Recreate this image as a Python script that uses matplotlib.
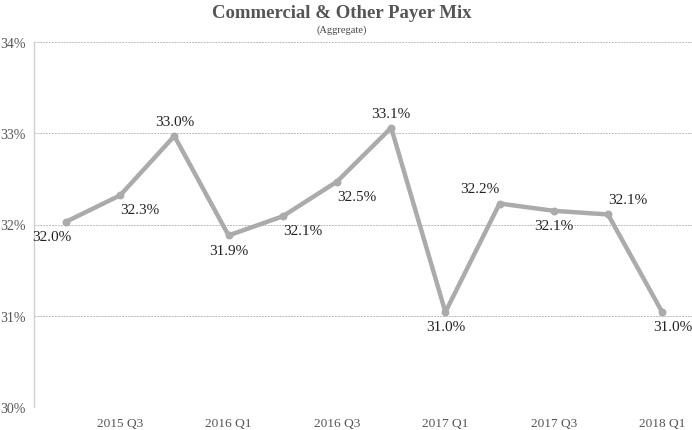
import matplotlib
matplotlib.use("Agg")
import matplotlib.pyplot as plt
from matplotlib.ticker import FuncFormatter

quarters = ["2015 Q2", "2015 Q3", "2015 Q4", "2016 Q1", "2016 Q2", "2016 Q3",
            "2016 Q4", "2017 Q1", "2017 Q2", "2017 Q3", "2017 Q4", "2018 Q1"]
payer_mix = [32.03, 32.32, 32.97, 31.88, 32.09, 32.47,
             33.06, 31.04, 32.23, 32.15, 32.11, 31.04]
shown_ticks = ["2015 Q3", "2016 Q1", "2016 Q3", "2017 Q1", "2017 Q3", "2018 Q1"]
y_ticks = [30, 31, 32, 33, 34]

# label placement, like the tableau auto labels: side (+1 above / -1 below)
label_side = [-1, -1, 1, -1, -1, -1, 1, -1, 1, -1, 1, -1]
label_ha = ["right", "left", "center", "center", "left", "left",
            "center", "center", "right", "center", "left", "center"]

plt.rcParams['font.family'] = ['Liberation Serif', 'DejaVu Serif']

fig = plt.figure(figsize=(6.92, 4.31), dpi=100)
ax = fig.add_axes([34 / 692, 23 / 431, 658 / 692, 365 / 431])

x = list(range(len(quarters)))
line_col = "#ababab"
ax.plot(x, payer_mix, color=line_col, lw=3.2, solid_capstyle="round",
        solid_joinstyle="round", zorder=3)
ax.scatter(x, payer_mix, s=22, color=line_col, zorder=4)

for i, v in enumerate(payer_mix):
    dx = 0
    if i == 0:
        dx = 4
    if i == len(payer_mix) - 1:
        dx = 7.5  # pushed in from the right edge
    ax.annotate(f"{v:.1f}%", (i, v), xytext=(dx, 10.5 * label_side[i]),
                textcoords="offset points", ha=label_ha[i], va="center",
                fontsize=11, color="#222222", zorder=5, annotation_clip=False)

ax.set_xlim(-0.59, 11.55)
ax.set_ylim(30, 34)
ax.set_yticks(y_ticks)
ax.yaxis.set_major_formatter(FuncFormatter(lambda v, p: f"{v:.0f}%"))
ax.set_xticks([quarters.index(q) for q in shown_ticks])
ax.set_xticklabels(shown_ticks)
ax.tick_params(axis="both", length=0, colors="#555555")
ax.tick_params(axis="y", pad=6, labelsize=10)
ax.tick_params(axis="x", pad=7, labelsize=9.6)

ax.grid(axis="y", color="#bbbbbb", linestyle=(0, (2, 1)), lw=0.7)
ax.set_axisbelow(True)
for s in ["top", "right", "bottom"]:
    ax.spines[s].set_visible(False)
ax.spines["left"].set_color("#d0d0d0")
ax.spines["left"].set_linewidth(1)

fig.text(0.494, 1 - 13 / 431, "Commercial & Other Payer Mix", ha="center",
         va="center", fontsize=13.5, fontweight="bold", color="#555555")
fig.text(0.494, 1 - 30 / 431, "(Aggregate)", ha="center", va="center",
         fontsize=7.5, color="#444444")

fig.savefig("out.png", dpi=100)
